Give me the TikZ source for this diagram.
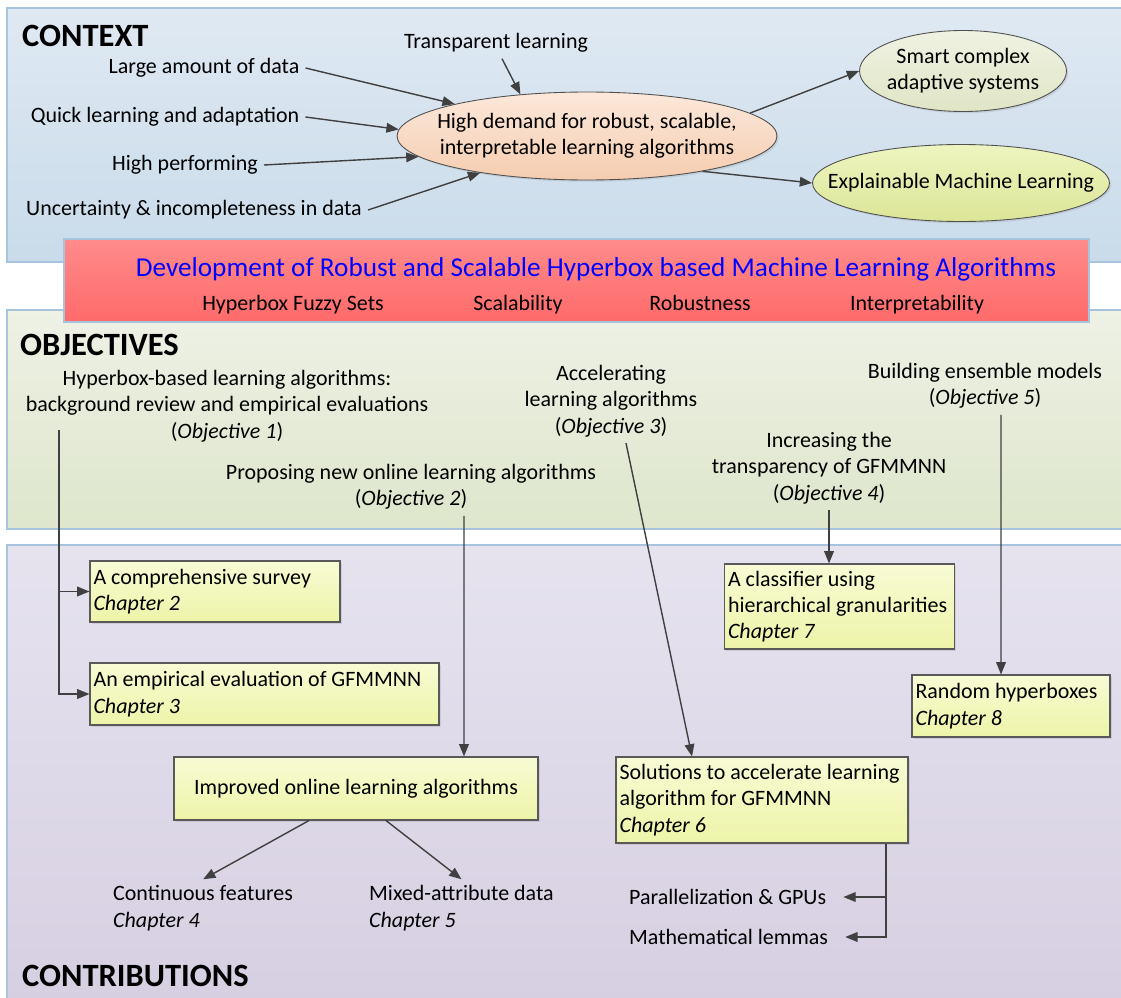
\documentclass[tikz,border=0pt]{standalone}
\usepackage{fontspec}
\setmainfont{Carlito}
\usetikzlibrary{shapes.geometric,arrows.meta,shadows}

\definecolor{ctxtop}{HTML}{DFE9F3}
\definecolor{ctxbot}{HTML}{C9DBEA}
\definecolor{objtop}{HTML}{EEF1E5}
\definecolor{objbot}{HTML}{DEE6CC}
\definecolor{contop}{HTML}{E6E3EF}
\definecolor{conbot}{HTML}{D6CFE2}
\definecolor{bandline}{HTML}{A8C3DD}
\definecolor{redtop}{HTML}{FF8B8B}
\definecolor{redbot}{HTML}{FF6A6A}
\definecolor{titleblue}{HTML}{0000FF}
\definecolor{demtop}{HTML}{FCE8DA}
\definecolor{dembot}{HTML}{F5CDB0}
\definecolor{smarttop}{HTML}{F0F2E2}
\definecolor{smartbot}{HTML}{E0E5C6}
\definecolor{xaitop}{HTML}{EEF4C0}
\definecolor{xaibot}{HTML}{DCE697}
\definecolor{boxtop}{HTML}{F8FBD4}
\definecolor{boxbot}{HTML}{EDF4A8}
\definecolor{boxline}{HTML}{595959}
\definecolor{ovalline}{HTML}{505050}
\definecolor{arrowgray}{HTML}{404040}

\begin{document}
\begin{tikzpicture}[x=0.02cm,y=-0.02cm,
  font=\fontsize{12.5}{15}\selectfont,
  heading/.style={anchor=west,font=\fontsize{18.5}{22}\selectfont\bfseries},
  arr/.style={draw=arrowgray,line width=0.8pt,-{Triangle[length=7pt,width=5.5pt]}},
  oval/.style={ellipse,draw=ovalline,line width=0.5pt,inner sep=0pt,
    drop shadow={opacity=0.2,shadow xshift=1pt,shadow yshift=-1pt}},
  chapbox/.style={draw=boxline,line width=0.6pt,top color=boxtop,bottom color=boxbot,
    inner xsep=2pt,inner ysep=0pt,align=flush left,text width=#1,
    drop shadow={opacity=0.2,shadow xshift=1pt,shadow yshift=-1pt}},
  band/.style={draw=bandline,line width=0.6pt}]
\useasboundingbox (0,0) rectangle (1121,997);

% Background bands
\draw[band,top color=ctxtop,bottom color=ctxbot] (7,8) rectangle (1130,262);
\draw[band,top color=objtop,bottom color=objbot] (7,310) rectangle (1130,529);
\draw[band,top color=contop,bottom color=conbot] (7,545) rectangle (1130,1005);

% Goal banner
\draw[band,top color=redtop,bottom color=redbot] (64,239) rectangle (1089,322);
\node[text=titleblue,font=\fontsize{15.5}{18}\selectfont] (title) at (596,269)
{Development of Robust and Scalable Hyperbox based Machine Learning Algorithms};
\node[anchor=base] (fuzzy) at (293,310) {Hyperbox Fuzzy Sets};
\node[anchor=base] (scal) at (518,310) {Scalability};
\node[anchor=base] (robu) at (700,310) {Robustness};
\node[anchor=base] (inter) at (917,310) {Interpretability};

% Context
\node[heading] (ctx) at (16,36) {CONTEXT};
\node (transp) at (496,43) {Transparent learning};
\node (large) at (204,68) {Large amount of data};
\node (quick) at (165,117) {Quick learning and adaptation};
\node (perf) at (185,165) {High performing};
\node (uncert) at (194,210) {Uncertainty \& incompleteness in data};

\node[oval,top color=demtop,bottom color=dembot,minimum width=7.6cm,minimum height=1.76cm]
(demand) at (587,136)
{\makebox[0pt]{\begin{tabular}{@{}c@{}}High demand for robust, scalable,\\interpretable learning algorithms\end{tabular}}};

\node[oval,top color=smarttop,bottom color=smartbot,minimum width=4.14cm,minimum height=1.62cm]
(smart) at (963,71)
{\makebox[0pt]{\begin{tabular}{@{}c@{}}Smart complex\\adaptive systems\end{tabular}}};

\node[oval,top color=xaitop,bottom color=xaibot,minimum width=5.94cm,minimum height=1.54cm]
(xai) at (961,183)
{\makebox[0pt]{Explainable Machine Learning}};

\draw[arr] ([xshift=0.12cm]transp.south) -- (demand.148);
\draw[arr] (large.east) -- (demand);
\draw[arr] (quick.east) -- (demand.178);
\draw[arr] (perf.east) -- (demand.187);
\draw[arr] (uncert.east) -- (demand.199);
\draw[arr] (demand.8) -- (smart.west);
\draw[arr] (demand.343) -- (xai.west);

% Objectives
\node[heading] (obj) at (14,345) {OBJECTIVES};
\node[align=flush center] (obj1) at (227,406)
{Hyperbox-based learning algorithms:\\background review and empirical evaluations\\(\textit{Objective 1})};
\node[align=flush center] (obj2) at (411,487)
{Proposing new online learning algorithms\\(\textit{Objective 2})};
\node[align=flush center] (obj3) at (611,401)
{Accelerating\\learning algorithms\\(\textit{Objective 3})};
\node[align=flush center] (obj4) at (829,468)
{Increasing the\\transparency of GFMMNN\\(\textit{Objective 4})};
\node[align=flush center] (obj5) at (985,386)
{Building ensemble models\\(\textit{Objective 5})};

% Contributions
\node[heading] (contrib) at (16,976) {CONTRIBUTIONS};
\node[chapbox=4.86cm,minimum height=1.22cm] (ch2) at (215,591.5)
{A comprehensive survey\\\textit{Chapter 2}};
\node[chapbox=6.84cm,minimum height=1.24cm] (ch3) at (264.5,694)
{An empirical evaluation of GFMMNN\\\textit{Chapter 3}};
\node[chapbox=7.14cm,align=flush center,minimum height=1.26cm] (improved) at (356,788.5)
{Improved online learning algorithms};
\node[chapbox=5.70cm,minimum height=1.72cm] (ch6) at (762,800)
{Solutions to accelerate learning\\algorithm for GFMMNN\\\textit{Chapter 6}};
\node[chapbox=4.46cm,minimum height=1.70cm] (ch7) at (839.5,606.5)
{A classifier using\\hierarchical granularities\\\textit{Chapter 7}};
\node[chapbox=3.82cm,minimum height=1.24cm] (ch8) at (1011,706)
{Random hyperboxes\\\textit{Chapter 8}};

\node[align=flush left,anchor=west] (cont) at (107,908)
{Continuous features\\\textit{Chapter 4}};
\node[align=flush left,anchor=west] (mixed) at (363,908)
{Mixed-attribute data\\\textit{Chapter 5}};
\node[anchor=west] (gpu) at (623,897) {Parallelization \& GPUs};
\node[anchor=west] (lemma) at (623,937) {Mathematical lemmas};

% Links objectives -> contributions
\coordinate (trunk1) at (59,430);
\draw[arr] (trunk1) |- (ch2.west);
\draw[arr] (trunk1) |- (ch3.west);
\draw[arr] ([xshift=1.06cm]obj2.south) -- ([xshift=2.16cm]improved.north);
\draw[arr] ([xshift=0.3cm]obj3.south) -- ([xshift=-1.4cm]ch6.north);
\draw[arr] (obj4.south) -- (obj4.south |- ch7.north);
\draw[arr] ([xshift=0.32cm]obj5.south) -- ([xshift=-0.2cm]ch8.north);

% Sub contributions
\draw[arr] ([xshift=-0.94cm]improved.south) -- (cont.north);
\draw[arr] ([xshift=0.6cm]improved.south) -- (mixed.north);
\draw[arr] ([xshift=2.48cm]ch6.south) |- ([xshift=0.22cm]gpu.east);
\draw[arr] ([xshift=2.48cm]ch6.south) |- ([xshift=0.22cm]lemma.east);
\end{tikzpicture}
\end{document}
